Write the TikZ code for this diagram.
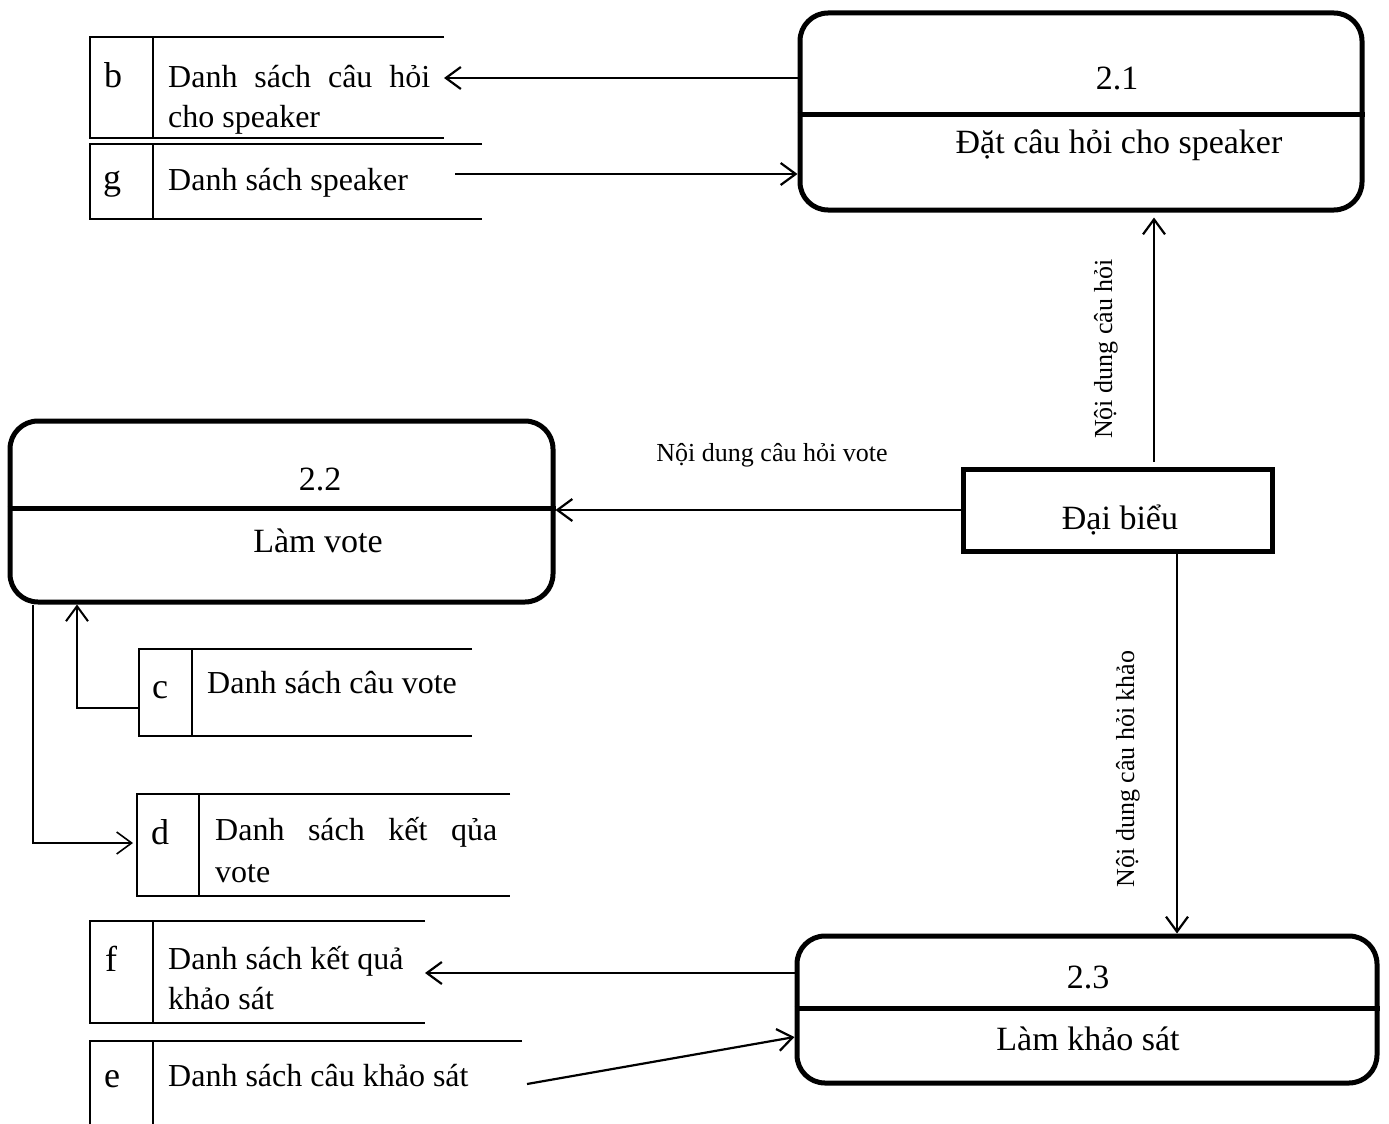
\documentclass[tikz,border=0pt]{standalone}
\usepackage{fontspec}
\setmainfont{Liberation Serif}
\usetikzlibrary{arrows.meta}

\newcommand\bigtxt{\fontsize{34}{40}\selectfont}
\newcommand\idtxt{\fontsize{36}{40}\selectfont}
\newcommand\midtxt{\fontsize{32}{36}\selectfont}
\newcommand\smalltxt{\fontsize{26}{30}\selectfont}

\tikzset{
  proc/.style={draw, line width=5pt, rounded corners=28pt, inner sep=0pt},
  procline/.style={line width=5pt},
  entity/.style={draw, line width=5pt, inner sep=0pt},
  storearea/.style={inner sep=0pt, outer sep=0pt},
  storeline/.style={line width=2.6pt},
  flow/.style={line width=2.2pt, -{Straight Barb[length=15pt,width=22pt]}},
  thinflow/.style={line width=1.6pt, -{Straight Barb[length=15pt,width=22pt]}},
  lbl/.style={inner sep=0pt, anchor=base},
  txt/.style={inner sep=0pt, anchor=base west},
}

% data store: name, left x, top y, right x, bottom y, divider x
\newcommand\dstore[6]{%
  \node[storearea, minimum width={#4-#2}, minimum height={#5-#3}] (#1) at ({(#2+#4)/2},{(#3+#5)/2}) {};
  \draw[storeline] (#1.north east) -- (#1.north west) -- (#1.south west) -- (#1.south east);
  \draw[storeline] (#1.north west -| #6,0) -- (#1.south west -| #6,0);
}

\begin{document}
\begin{tikzpicture}[x=1pt, y=-1pt]
\useasboundingbox (0,0) rectangle (1389,1124);

% processes
\node[proc, minimum width=562pt, minimum height=197pt] (p21) at (1081,111.5) {};
\draw[procline] (p21.west |- 0,114) -- (p21.east |- 0,114);
\node[lbl, font=\bigtxt] (p21num) at (1117,89) {2.1};
\node[lbl, font=\bigtxt] (p21name) at (1119,153) {Đặt câu hỏi cho speaker};

\node[proc, minimum width=543pt, minimum height=181pt] (p22) at (281.5,511.5) {};
\draw[procline] (p22.west |- 0,508) -- (p22.east |- 0,508);
\node[lbl, font=\bigtxt] (p22num) at (320,490) {2.2};
\node[lbl, font=\bigtxt] (p22name) at (318,552) {Làm vote};

\node[proc, minimum width=580pt, minimum height=147pt] (p23) at (1087,1009.5) {};
\draw[procline] (p23.west |- 0,1008) -- (p23.east |- 0,1008);
\node[lbl, font=\bigtxt] (p23num) at (1088,988) {2.3};
\node[lbl, font=\bigtxt] (p23name) at (1088,1050) {Làm khảo sát};

% external entity
\node[entity, minimum width=309pt, minimum height=82pt] (db) at (1117.5,510) {};
\node[lbl, font=\bigtxt] (dbname) at (1120,529) {Đại biểu};

% data stores
\dstore{b}{90}{37}{444}{138}{153}
\node[lbl, font=\idtxt] (bid) at (113,88) {b};
\node[txt] (btxt) at (168,87) {\parbox[t]{262pt}{\fontsize{32}{40}\selectfont\makebox[262pt][s]{Danh sách câu hỏi}\\cho speaker}};

\dstore{g}{90}{144}{482}{219}{153}
\node[lbl, font=\idtxt] (gid) at (112,189) {g};
\node[txt, font=\midtxt] (gtxt) at (168,190) {Danh sách speaker};

\dstore{c}{139}{649}{472}{736}{192}
\node[lbl, font=\idtxt] (cid) at (160,698) {c};
\node[txt, font=\midtxt] (ctxt) at (207,693) {Danh sách câu vote};

\dstore{d}{137}{794}{510}{896}{199}
\node[lbl, font=\idtxt] (did) at (160,844) {d};
\node[txt] (dtxt) at (215,840) {\parbox[t]{282pt}{\fontsize{32}{42}\selectfont\makebox[282pt][s]{Danh sách kết qủa}\\vote}};

\dstore{f}{90}{921}{425}{1023}{153}
\node[lbl, font=\idtxt] (fid) at (111,971) {f};
\node[txt] (ftxt) at (168,969) {\parbox[t]{262pt}{\fontsize{32}{40}\selectfont Danh sách kết quả\\khảo sát}};

\dstore{e}{90}{1041}{522}{1130}{153}
\node[lbl, font=\idtxt] (eid) at (112,1087) {e};
\node[txt, font=\midtxt] (etxt) at (168,1086) {Danh sách câu khảo sát};

% helper coordinates
\coordinate (gout) at (455,174);
\coordinate (eout) at (527,1084);
\coordinate (upx) at (1154,0);
\coordinate (downx) at (1177,0);
\coordinate (cx) at (77,0);
\coordinate (cy) at (0,708);
\coordinate (dx) at (33,0);
\coordinate (dy) at (0,843);

% flows
\draw[flow] (p21.west |- 0,78) -- (b.east |- 0,78);
\draw[flow] (gout) -- (p21.west |- gout);
\draw[flow, shorten <=5pt, shorten >=5pt] (db.north -| upx) -- (p21.south -| upx);
\node[lbl, rotate=90, font=\smalltxt] (q1lbl) at (1112,349) {Nội dung câu hỏi};
\draw[flow] (db.west |- 0,510) -- (p22.east |- 0,510);
\node[lbl, font=\smalltxt] (qvote) at (772,461) {Nội dung câu hỏi vote};
\draw[flow] (db.south -| downx) -- (p23.north -| downx);
\node[lbl, rotate=90, font=\smalltxt] (q3lbl) at (1134,769) {Nội dung câu hỏi khảo};
\draw[flow] (p23.west |- 0,973) -- (f.east |- 0,973);
\draw[flow] (eout) -- (p23.west |- 0,1037);
\draw[thinflow, line width=2pt] (c.west |- cy) -| (p22.south -| cx);
\draw[thinflow, shorten >=4pt] (p22.south -| dx) |- (d.west |- dy);
\end{tikzpicture}
\end{document}
